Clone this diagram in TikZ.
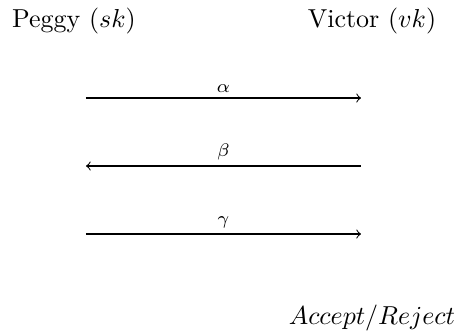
\documentclass[tikz,border=0pt]{standalone}
\begin{document}
\begin{tikzpicture}[x=0.385pt,y=-0.385pt,
  party/.style={inner sep=0pt, anchor=center},
  msg/.style={->, line width=0.4pt},
  lbl/.style={font=\scriptsize, above, inner sep=2pt}]
\useasboundingbox (0,0) rectangle (460,331);
\node[party] (P) at (74,21) {Peggy $(sk)$};
\node[party] (V) at (372,21) {Victor $(vk)$};
\coordinate (a1) at (86,98);  \coordinate (a2) at (361,98);
\coordinate (b1) at (86,166); \coordinate (b2) at (361,166);
\coordinate (c1) at (86,234); \coordinate (c2) at (361,234);
\draw[msg] (a1) -- node[lbl] {$\alpha$} (a2);
\draw[msg] (b2) -- node[lbl] {$\beta$} (b1);
\draw[msg] (c1) -- node[lbl] {$\gamma$} (c2);
\node[party] (R) at (372,318) {$Accept/Reject$};
\end{tikzpicture}
\end{document}
